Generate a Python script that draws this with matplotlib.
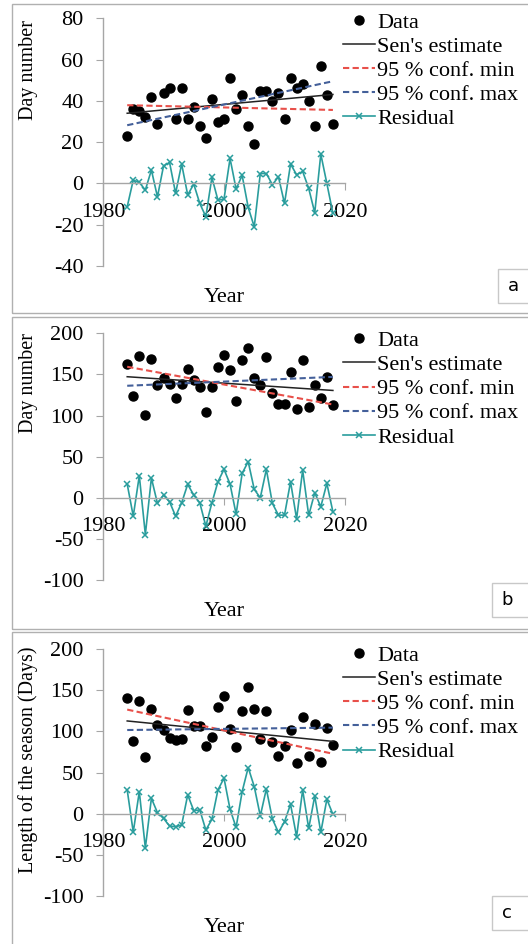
import matplotlib
matplotlib.use('Agg')
import matplotlib.pyplot as plt
import numpy as np
from matplotlib.patches import Rectangle

plt.rcParams['font.family'] = ['Liberation Serif', 'DejaVu Serif']
plt.rcParams['axes.unicode_minus'] = False

# years of observation
years = np.arange(1984, 2019)
trend_years = [1984, 2018]

# panel a
data_a = [23, 36, 35, 32, 42, 29, 44, 46, 31, 46, 31, 37, 28, 22, 41, 30, 31, 51,
          36, 43, 28, 19, 45, 45, 40, 44, 31, 51, 46, 48, 40, 28, 57, 43, 29]
resid_a = [-11.3, 1.6, 0.5, -3.2, 6.5, -6.5, 8.4, 10.2, -4.8, 9.4, -5.6, -0.3, -9.7,
           -16.1, 2.9, -8.1, -7.6, 12.1, -2.7, 3.9, -11.6, -21, 4.8, 4.8, -0.6, 3.2,
           -9.7, 9.4, 4.2, 5.8, -2.4, -14.2, 14.2, 0, -14.5]
sen_a = [34.0, 43.1]
cmin_a = [37.9, 35.6]
cmax_a = [28.2, 49.5]

# panel b
data_b = [163, 124, 172, 101, 169, 137, 146, 138, 121, 138, 157, 143, 135, 104.5,
          135, 159, 174, 155, 117.5, 167.5, 182, 146, 137, 171, 127, 114, 114, 153,
          108, 167, 110, 137, 121, 147, 113]
resid_b = [16.7, -22.4, 26.8, -44.7, 24, -6.9, 3.3, -4.9, -22.4, -6.1, 16.3, 3.3,
           -6.1, -34.6, -6.1, 19.5, 34.6, 16.7, -19.9, 29.7, 43.9, 10.2, 0, 34.6,
           -6.9, -21.1, -21.1, 19.5, -25.6, 33.7, -21.5, 6.1, -11, 17.5, -17.1]
sen_b = [147.2, 130.5]
cmin_b = [159.3, 113.4]
cmax_b = [136.2, 147.0]

# panel c
data_c = [140.7, 88, 137.4, 68.7, 126.8, 108, 102, 92, 90, 90.7, 126.4, 106, 107,
          81.7, 93.5, 129.7, 142.7, 103.3, 81, 124.4, 153.3, 126.8, 90.2, 124.8, 87,
          69.5, 81.7, 102, 61.4, 118, 69.5, 109.3, 63, 104, 83.7]
resid_c = [28.9, -22.4, 26.8, -41.5, 18.7, 1.2, -5.7, -15, -15.9, -13.8, 22.8, 3.7,
           4.5, -19.9, -6.9, 28.9, 43.1, 5.3, -16.7, 26.8, 56, 32.9, -2.8, 30.1, -6.5,
           -22.8, -9.8, 11.4, -28, 28.9, -17.9, 21.5, -22.8, 17.5, -0.8]
sen_c = [112.6, 87.8]
cmin_c = [126.4, 72.8]
cmax_c = [101.6, 104.5]

W, H = 528, 944
GRAY = '#a6a6a6'
RED = '#e8504a'
BLUE = '#44609a'
TEAL = '#2a9d9d'
FS = 16

fig = plt.figure(figsize=(W / 100, H / 100), dpi=100)


def px_axes(x0, x1, ytop, ybot):
  return fig.add_axes([x0 / W, 1 - ybot / H, (x1 - x0) / W, (ybot - ytop) / H])


def draw_panel(ax, data, resid, sen, cmin, cmax, ylim, yticks, ylabel, ylab_y, leg_top):
  ax.plot(years, data, 'o', color='black', markersize=6.5, label='Data')
  ax.plot(trend_years, sen, '-', color='#222222', lw=1.1, label="Sen's estimate")
  ax.plot(trend_years, cmin, color=RED, lw=1.5, dashes=(3, 1.6), label='95 % conf. min')
  ax.plot(trend_years, cmax, color=BLUE, lw=1.5, dashes=(3, 1.6), label='95 % conf. max')
  ax.plot(years, resid, '-', color=TEAL, lw=1.2, marker='x', markersize=4,
          markeredgewidth=1.1, label='Residual')

  ax.set_xlim(1980, 2020)
  ax.set_ylim(*ylim)
  ax.set_xticks([1980, 2000, 2020])
  ax.set_yticks(yticks)
  ax.spines['top'].set_visible(False)
  ax.spines['right'].set_visible(False)
  ax.spines['bottom'].set_position(('data', 0))
  for s in ('left', 'bottom'):
    ax.spines[s].set_color(GRAY)
    ax.spines[s].set_linewidth(1.0)
  ax.tick_params(axis='y', direction='out', length=5, color=GRAY, labelsize=FS, pad=9)
  ax.tick_params(axis='x', direction='out', length=5, color=GRAY, labelsize=FS, pad=9)
  ax.patch.set_alpha(0)

  ax.set_ylabel(ylabel, fontsize=FS - 1.5)
  ax.yaxis.set_label_coords(-0.27, ylab_y)
  ax.set_xlabel('Year', fontsize=FS)
  ax.xaxis.set_label_coords(0.5, -0.088)

  ax.legend(loc='upper left', bbox_to_anchor=(0.99, leg_top), frameon=False,
            fontsize=FS, handlelength=1.45, handletextpad=0.1, borderpad=0,
            borderaxespad=0, labelspacing=0.16)


ax_a = px_axes(103, 345, 18.3, 266)
draw_panel(ax_a, data_a, resid_a, sen_a, cmin_a, cmax_a, (-40, 80),
           [-40, -20, 0, 20, 40, 60, 80], 'Day number', 0.79, 1.025)

ax_b = px_axes(103, 345, 333.3, 580)
draw_panel(ax_b, data_b, resid_b, sen_b, cmin_b, cmax_b, (-100, 200),
           [-100, -50, 0, 50, 100, 150, 200], 'Day number', 0.80, 1.011)

ax_c = px_axes(103, 345, 649, 896)
draw_panel(ax_c, data_c, resid_c, sen_c, cmin_c, cmax_c, (-100, 200),
           [-100, -50, 0, 50, 100, 150, 200], 'Length of the season (Days)', 0.55, 1.015)

# panel frames
frames = [(12, 4, 313), (12, 317, 629), (12, 632, 948)]
for x0, y0, y1 in frames:
  fig.patches.append(Rectangle((x0 / W, 1 - y1 / H), (W + 10 - x0) / W, (y1 - y0) / H,
                               transform=fig.transFigure, fill=False,
                               edgecolor='#b0b0b0', lw=1.0))

# panel letters
for letter, (bx0, by0, bx1, by1) in zip('abc', [(498, 269, 532, 303), (492, 583, 532, 617),
                                               (492, 896, 532, 930)]):
  fig.patches.append(Rectangle((bx0 / W, 1 - by1 / H), (bx1 - bx0) / W, (by1 - by0) / H,
                               transform=fig.transFigure, facecolor='white',
                               edgecolor='#c8c8c8', lw=1.0))
  fig.text((bx0 + 15) / W, 1 - ((by0 + by1) / 2) / H, letter, fontsize=13,
           family='DejaVu Sans', ha='center', va='center')

fig.savefig('out.png', dpi=100)
